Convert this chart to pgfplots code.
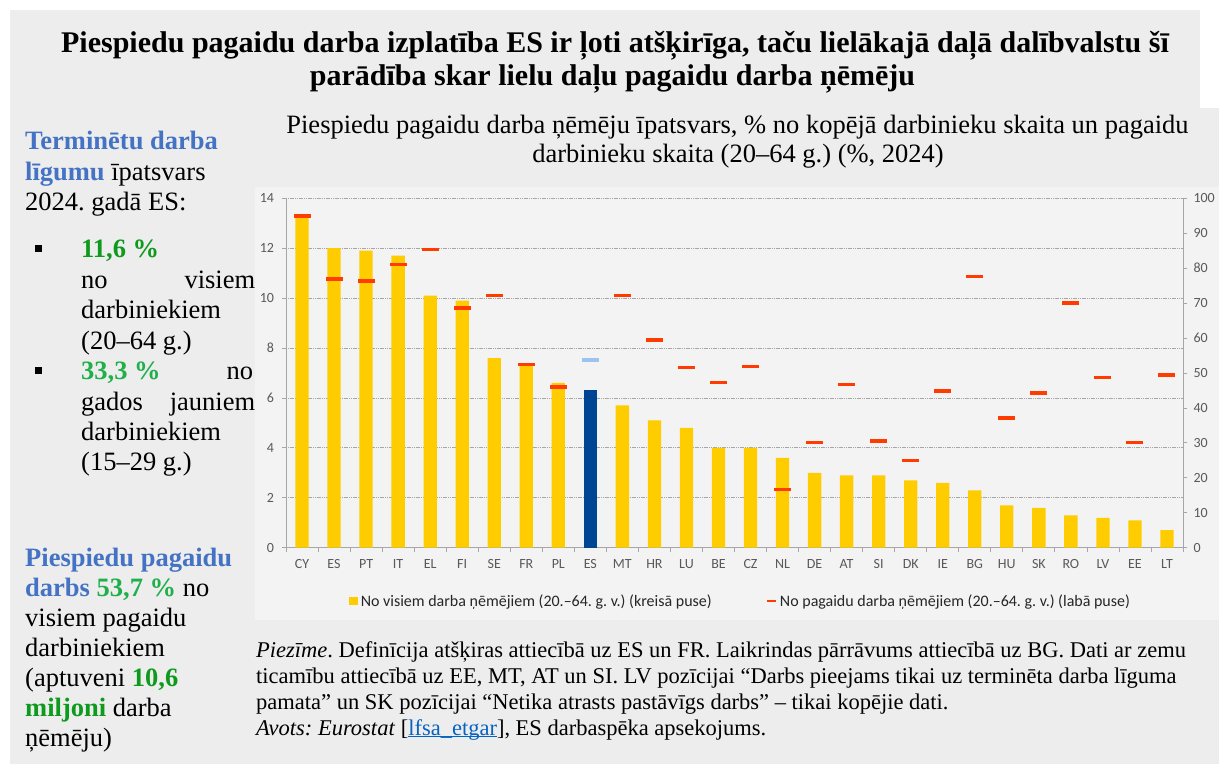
\documentclass[border=0pt]{standalone}
\usepackage{pgfplots}
\pgfplotsset{compat=1.18}
\usepackage{pgfplotstable}
\usepackage{fontspec}
\setmainfont{Liberation Serif}
\newfontfamily\calibri{Carlito}
\definecolor{panel}{HTML}{EDEDED}
\definecolor{chartbg}{HTML}{F3F3F3}
\definecolor{ybarc}{HTML}{FFCC00}
\definecolor{eubar}{HTML}{004494}
\definecolor{redm}{HTML}{FF3B00}
\definecolor{lblue}{HTML}{9DC3F0}
\definecolor{tblue}{HTML}{4472C4}
\definecolor{dgreen}{HTML}{0E9A1C}
\definecolor{lgreen}{HTML}{1FAF4B}
\definecolor{tickc}{HTML}{595959}
\definecolor{axc}{HTML}{A6A6A6}
\definecolor{linkc}{HTML}{0563C1}
\newcommand\linkul[1]{\setbox0\hbox{#1}\rlap{\rule[-2.4pt]{\wd0}{1pt}}\box0}

\pgfplotstableread{
i v
0 13.3
1 12.0
2 11.9
3 11.7
4 10.1
5 9.9
6 7.6
7 7.3
8 6.6
10 5.7
11 5.1
12 4.8
13 4.0
14 4.0
15 3.6
16 3.0
17 2.9
18 2.9
19 2.7
20 2.6
21 2.3
22 1.7
23 1.6
24 1.3
25 1.2
26 1.1
27 0.7
}\allbars

\pgfplotstableread{
i v
0 95.0
1 76.9
2 76.4
3 81.1
4 85.3
5 68.6
6 72.2
7 52.4
8 46.0
10 72.2
11 59.4
12 51.6
13 47.3
14 51.8
15 16.6
16 30.1
17 46.7
18 30.5
19 24.9
20 44.8
21 77.6
22 37.1
23 44.3
24 70.0
25 48.7
26 30.1
27 49.4
}\temps

\begin{document}
\frenchspacing
\begin{tikzpicture}
\begin{scope}[x=1pt,y=-1pt,shift={(0pt,764pt)}]
  \fill[white] (0,0) rectangle (1225,764);
  \fill[panel] (10,10) rectangle (1200,764);
  \fill[panel] (10,108) rectangle (1219,764);
  \fill[chartbg] (255,187) rectangle (1219,620);
  % title
  \node[anchor=base,inner sep=0pt,font=\bfseries\fontsize{30}{33}\selectfont] at (615,52.7) {Piespiedu pagaidu darba izplatība ES ir ļoti atšķirīga, taču lielākajā daļā dalībvalstu šī};
  \node[anchor=base,inner sep=0pt,font=\bfseries\fontsize{30}{33}\selectfont] at (612.5,86) {parādība skar lielu daļu pagaidu darba ņēmēju};
  % subtitle
  \node[anchor=base,inner sep=0pt,font=\fontsize{26.5}{30}\selectfont] at (737.5,133.3) {Piespiedu pagaidu darba ņēmēju īpatsvars, \% no kopējā darbinieku skaita un pagaidu};
  \node[anchor=base,inner sep=0pt,font=\fontsize{26.5}{30}\selectfont] at (738,162.5) {darbinieku skaita (20–64 g.) (\%, 2024)};
  % left panel
  \begin{scope}[every node/.style={anchor=base west,inner sep=0pt,font=\fontsize{26.5}{30}\selectfont}]
    \node at (25,149.3) {\bfseries\color{tblue}Terminētu darba};
    \node at (25,180.3) {{\bfseries\color{tblue}līgumu} īpatsvars};
    \node at (25,210.3) {2024. gadā ES:};
    \node at (35,252.3) {\rule{7pt}{7pt}};
    \node at (81,257.7) {\bfseries\color{dgreen}11,6 \%};
    \node at (81,288.3) {\hbox to 174pt{no\hfill visiem}};
    \node at (81,319) {darbiniekiem};
    \node at (81,349.3) {(20–64 g.)};
    \node at (35,374) {\rule{7pt}{7pt}};
    \node at (81,379.3) {\hbox to 172pt{{\bfseries\color{lgreen}33,3 \%}\hfill no}};
    \node at (81,410) {\hbox to 174pt{gados\hfill jauniem}};
    \node at (81,440.7) {darbiniekiem};
    \node at (81,470.7) {(15–29 g.)};
    \node at (25,566.7) {\bfseries\color{tblue}Piespiedu pagaidu};
    \node at (25,596.7) {{\bfseries\color{tblue}darbs} {\bfseries\color{lgreen}53,7 \%} no};
    \node at (25,626.7) {visiem pagaidu};
    \node at (25,656) {darbiniekiem};
    \node at (25,686.7) {(aptuveni {\bfseries\color{dgreen}10,6}};
    \node at (25,716.7) {{\bfseries\color{dgreen}miljoni} darba};
    \node at (25,746) {ņēmēju)};
  \end{scope}
  % footnote
  \begin{scope}[every node/.style={anchor=base west,inner sep=0pt,font=\fontsize{22.5}{26}\selectfont}]
    \node at (256,657.3) {\textit{Piezīme}. Definīcija atšķiras attiecībā uz ES un FR. Laikrindas pārrāvums attiecībā uz BG. Dati ar zemu};
    \node at (256,683) {ticamību attiecībā uz EE, MT, AT un SI. LV pozīcijai “Darbs pieejams tikai uz terminēta darba līguma};
    \node at (256,709.5) {pamata” un SK pozīcijai “Netika atrasts pastāvīgs darbs” – tikai kopējie dati.};
    \node at (256,735) {\textit{Avots: Eurostat} [{\color{linkc}\linkul{lfsa\_etgar}}], ES darbaspēka apsekojums.};
  \end{scope}
\end{scope}

\begin{axis}[
  at={(286pt,216.3pt)}, anchor=south west,
  width=897pt, height=349.4pt, scale only axis,
  xmin=-0.5, xmax=27.5, ymin=0, ymax=14,
  axis x line*=bottom, axis y line*=left,
  axis line style={draw=axc, line width=0.8pt},
  ytick={0,2,...,14},
  ymajorgrids,
  major grid style={draw=axc, line width=0.8pt, dash pattern=on 1.2pt off 0.6pt},
  xtick={0,...,27},
  xticklabels={CY,ES,PT,IT,EL,FI,SE,FR,PL,ES,MT,HR,LU,BE,CZ,NL,DE,AT,SI,DK,IE,BG,HU,SK,RO,LV,EE,LT},
  minor xtick={-0.5,0.5,...,27.5},
  tick align=outside,
  major tick length=4pt, minor tick length=4pt,
  major x tick style={draw=none},
  minor x tick style={draw=axc, line width=0.8pt},
  y tick style={draw=axc, line width=0.8pt},
  ticklabel style={font=\calibri\fontsize{14}{14}\selectfont, text=tickc},
  /pgf/number format/assume math mode=true,
  yticklabel style={xshift=-4.5pt},
  xticklabel style={yshift=-4.5pt},
  legend columns=2,
  legend cell align=left,
  legend style={draw=none, fill=none, inner sep=0pt,
    at={(axis description cs:0.0702,-0.1526)}, anchor=west,
    font=\calibri\fontsize{16}{16}\selectfont, text=black!85,
    nodes={inner xsep=2.6pt},
    /tikz/every even column/.append style={column sep=52pt}},
]
\addplot[ybar, bar width=13.3pt, bar shift=0pt, fill=ybarc, draw=none,
  legend image code/.code={\fill[ybarc] (0pt,-4.2pt) rectangle (9pt,4.2pt);}]
  table[x=i,y=v] {\allbars};
\addlegendentry{No visiem darba ņēmējiem (20.–64. g. v.) (kreisā puse)}
\addplot[ybar, bar width=13.3pt, bar shift=0pt, fill=eubar, draw=none, forget plot]
  coordinates {(9,6.3)};
\addlegendimage{legend image code/.code={\draw[redm, line width=2pt] (0pt,0pt) -- (9pt,0pt);}}
\addlegendentry{No pagaidu darba ņēmējiem (20.–64. g. v.) (labā puse)}
\end{axis}

\begin{axis}[
  at={(286pt,216.3pt)}, anchor=south west,
  width=897pt, height=349.4pt, scale only axis,
  xmin=-0.5, xmax=27.5, ymin=0, ymax=100,
  axis y line*=right, axis x line=none,
  axis line style={draw=axc, line width=0.8pt},
  ytick={0,10,...,100},
  tick align=outside, major tick length=4pt,
  y tick style={draw=axc, line width=0.8pt},
  ticklabel style={font=\calibri\fontsize{14}{14}\selectfont, text=tickc},
  /pgf/number format/assume math mode=true,
  yticklabel style={xshift=3pt},
  clip=false,
]
\addplot[only marks, mark=-, mark size=8.5pt, mark options={draw=redm, line width=3.5pt}]
  table[x=i,y=v] {\temps};
\addplot[only marks, mark=-, mark size=8.5pt, mark options={draw=lblue, line width=3.5pt}]
  coordinates {(9,53.7)};
\end{axis}
\end{tikzpicture}
\end{document}
